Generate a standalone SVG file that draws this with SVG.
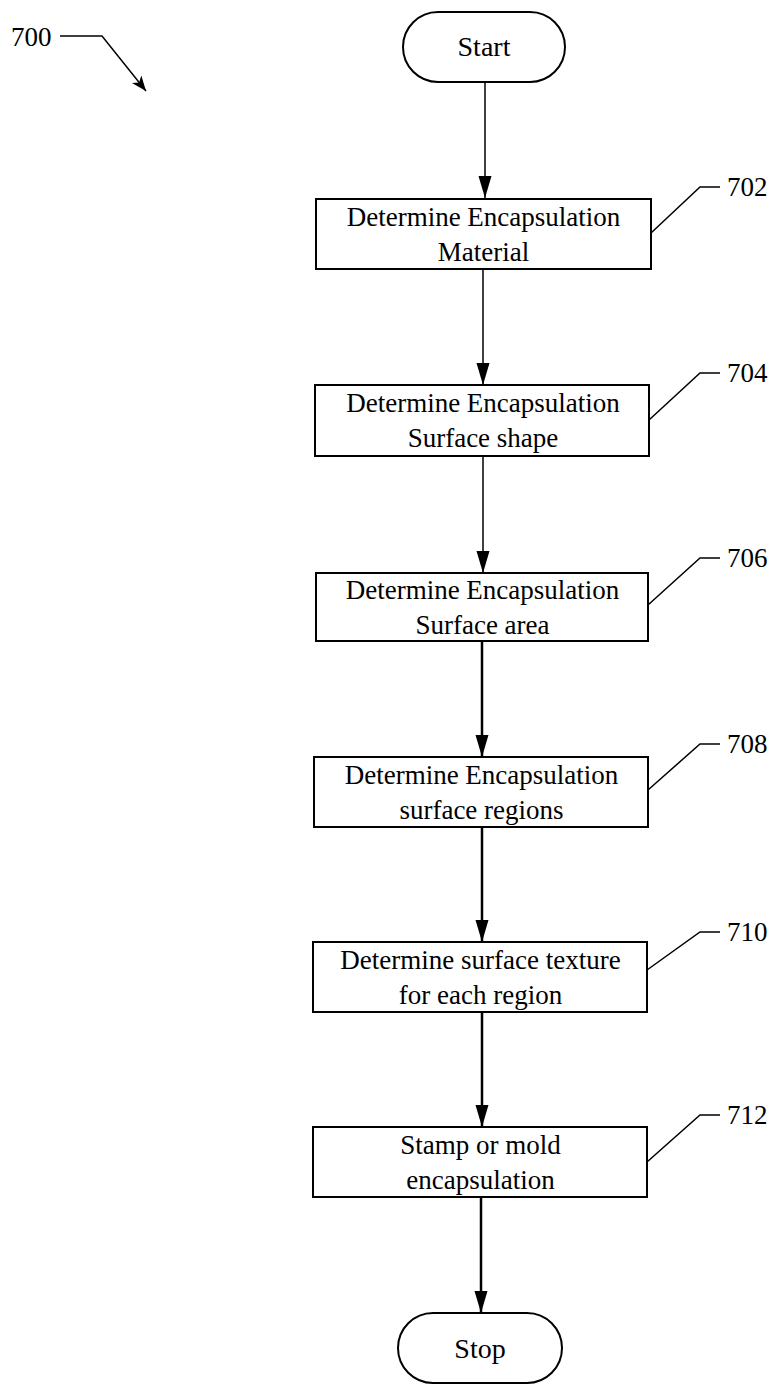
<svg xmlns="http://www.w3.org/2000/svg" width="774" height="1384" viewBox="0 0 774 1384">
<style>
  .box { fill: #fff; stroke: #000; stroke-width: 2; }
  .t { font-family: "Liberation Serif", "Times New Roman", serif; font-size: 27px; fill: #000; text-anchor: middle; }
  .te { font-family: "Liberation Serif", "Times New Roman", serif; font-size: 28px; fill: #000; text-anchor: middle; }
  .lbl { font-family: "Liberation Serif", "Times New Roman", serif; font-size: 27px; fill: #000; }
  .lead { fill: none; stroke: #000; stroke-width: 1.5; }
  .c1 { stroke: #000; stroke-width: 1.5; fill: none; }
  .c2 { stroke: #000; stroke-width: 2.5; fill: none; }
</style>
<defs>
  <marker id="ah" markerUnits="userSpaceOnUse" markerWidth="23" markerHeight="14" refX="22" refY="7" orient="auto" viewBox="0 0 23 14">
    <path d="M0,0.5 L22,7 L0,13.5 Z" fill="#000"/>
  </marker>
  <marker id="ah2" markerUnits="userSpaceOnUse" markerWidth="16" markerHeight="14" refX="15" refY="7" orient="auto" viewBox="0 0 16 14">
    <path d="M0,1 L15,7 L0,13 L4,7 Z" fill="#000"/>
  </marker>
</defs>

<g id="connectors">
  <line class="c1" x1="485" y1="82" x2="485" y2="198" marker-end="url(#ah)"/>
  <line class="c1" x1="483" y1="269" x2="483" y2="385" marker-end="url(#ah)"/>
  <line class="c1" x1="483" y1="456" x2="483" y2="573" marker-end="url(#ah)"/>
  <line class="c2" x1="482" y1="641" x2="482" y2="757" marker-end="url(#ah)"/>
  <line class="c2" x1="482" y1="827" x2="482" y2="942" marker-end="url(#ah)"/>
  <line class="c2" x1="482" y1="1012" x2="482" y2="1127" marker-end="url(#ah)"/>
  <line class="c2" x1="481" y1="1197" x2="481" y2="1313" marker-end="url(#ah)"/>
</g>

<g id="label-700">
  <text class="lbl" x="11" y="46">700</text>
  <polyline class="lead" points="60,36 102,36 146,91" marker-end="url(#ah2)"/>
</g>

<g id="start">
  <rect class="box" x="403" y="12" width="162" height="70" rx="35" ry="35"/>
  <text class="te" x="484" y="56">Start</text>
</g>

<g id="n702">
  <rect class="box" x="316" y="199" width="335" height="70"/>
  <text class="t" x="483.5" y="225.5">Determine Encapsulation</text>
  <text class="t" x="483.5" y="260.5">Material</text>
  <polyline class="lead" points="651,233 700,187 720,187"/>
  <text class="lbl" x="727" y="196">702</text>
</g>

<g id="n704">
  <rect class="box" x="315" y="385" width="334" height="71"/>
  <text class="t" x="483" y="412">Determine Encapsulation</text>
  <text class="t" x="483" y="447">Surface shape</text>
  <polyline class="lead" points="649,420 700,373 720,373"/>
  <text class="lbl" x="727" y="382">704</text>
</g>

<g id="n706">
  <rect class="box" x="316" y="573" width="332" height="68"/>
  <text class="t" x="482.5" y="599">Determine Encapsulation</text>
  <text class="t" x="482.5" y="634">Surface area</text>
  <polyline class="lead" points="648,605 700,558 720,558"/>
  <text class="lbl" x="727" y="567">706</text>
</g>

<g id="n708">
  <rect class="box" x="314" y="757" width="334" height="70"/>
  <text class="t" x="481.5" y="783.5">Determine Encapsulation</text>
  <text class="t" x="481.5" y="818.5">surface regions</text>
  <polyline class="lead" points="648,790 700,744 720,744"/>
  <text class="lbl" x="727" y="753">708</text>
</g>

<g id="n710">
  <rect class="box" x="313" y="942" width="334" height="70"/>
  <text class="t" x="480.5" y="968.5">Determine surface texture</text>
  <text class="t" x="480.5" y="1003.5">for each region</text>
  <polyline class="lead" points="647,970 700,932 720,932"/>
  <text class="lbl" x="727" y="941">710</text>
</g>

<g id="n712">
  <rect class="box" x="313" y="1127" width="334" height="70"/>
  <text class="t" x="480.5" y="1153.5">Stamp or mold</text>
  <text class="t" x="480.5" y="1188.5">encapsulation</text>
  <polyline class="lead" points="647,1162 700,1115 720,1115"/>
  <text class="lbl" x="727" y="1124">712</text>
</g>

<g id="stop">
  <rect class="box" x="398" y="1313" width="164" height="70" rx="35" ry="35"/>
  <text class="te" x="480" y="1358">Stop</text>
</g>
</svg>
